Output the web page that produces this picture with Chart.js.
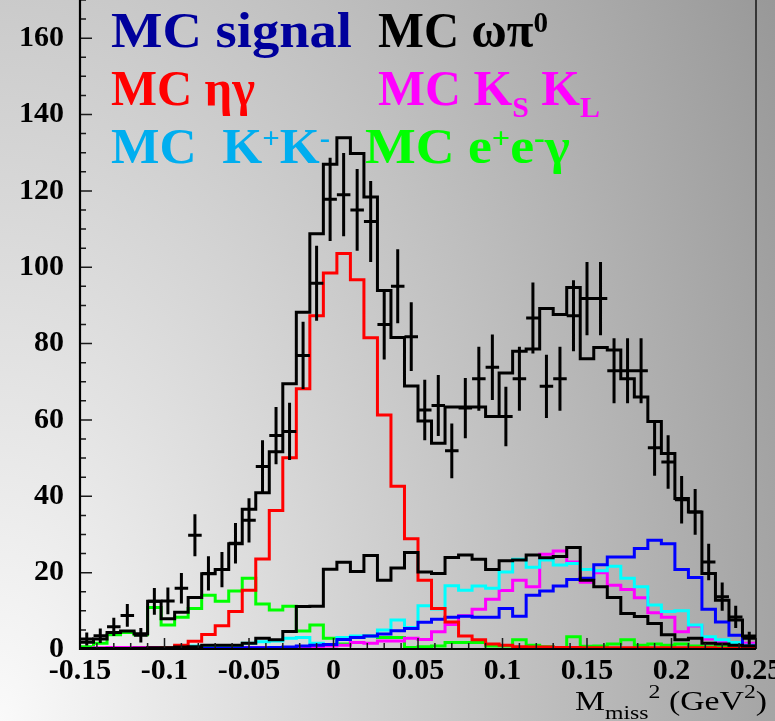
<!DOCTYPE html>
<html>
<head>
<meta charset="utf-8">
<script src="https://cdn.jsdelivr.net/npm/chart.js@4.4.1/dist/chart.umd.min.js"></script>
<style>
  html, body { margin: 0; padding: 0; overflow: hidden; background: #c8c8c8; }
  canvas { display: block; }
</style>
</head>
<body>
<canvas id="c" width="800" height="721"></canvas>
<script>
// 50 bins of 0.008 GeV^2 from -0.15 to 0.25
const binLow = -0.15;
const binWidth = 0.008;

const xTickValues = [-0.15, -0.1, -0.05, 0, 0.05, 0.1, 0.15, 0.2, 0.25];
const yTickValues = [0, 20, 40, 60, 80, 100, 120, 140, 160];

// data: counts per bin and their errors
const dataCounts = [2.6, 3.5, 5.8, 8.8, 3.6, 12.5, 12.6, 15.9, 29.8, 19.8,
  20.8, 27.7, 33.7, 47.8, 55.9, 57.0, 76.9, 95.8, 117.8, 119.0,
  115.0, 112.0, 85.0, 95.0, 81.8, 62.6, 63.8, 51.9, 63.1, 70.8,
  73.8, 60.9, 70.8, 86.7, 68.8, 70.8, 87.3, 91.8, 91.8, 72.9,
  72.9, 72.9, 52.7, 49.0, 39.1, 35.9, 22.8, 13.7, 8.4, 2.8];
const dataErrors = [1.7, 1.9, 2.4, 3.0, 1.9, 3.5, 3.5, 4.0, 5.5, 4.5,
  4.6, 5.3, 5.8, 6.9, 7.5, 7.5, 8.8, 9.8, 10.9, 10.9,
  10.7, 10.6, 9.2, 9.7, 9.0, 7.9, 8.0, 7.2, 7.9, 8.4,
  8.6, 7.8, 8.4, 9.3, 8.3, 8.4, 9.3, 9.6, 9.6, 8.5,
  8.5, 8.5, 7.3, 7.0, 6.2, 6.0, 4.8, 3.7, 2.9, 1.7];

// MC: sum of all samples
const mcTotal = [1.8, 2.6, 4.3, 4.7, 4.0, 12.5, 7.9, 9.6, 13.5, 19.7,
  20.8, 27.6, 36.6, 40.9, 51.7, 69.5, 88.2, 108.8, 127.0, 133.9,
  129.8, 118.4, 93.9, 81.6, 68.9, 59.7, 53.9, 63.4, 63.4, 63.4,
  60.9, 72.3, 78.0, 78.6, 89.2, 87.6, 94.7, 76.0, 79.0, 78.3,
  70.8, 66.0, 59.6, 51.2, 39.4, 35.9, 19.8, 12.8, 7.6, 3.4];

const mcOmegaPi0 = [0.1, 0.1, 0.1, 0.1, 0.2, 0.3, 0.3, 0.5, 0.6, 1.0,
  1.0, 1.0, 1.5, 2.8, 2.4, 4.6, 11.1, 11.2, 20.9, 22.7,
  20.3, 24.5, 18.0, 21.2, 25.3, 20.2, 19.8, 24.0, 24.6, 23.5,
  20.8, 23.1, 23.3, 24.6, 23.9, 24.2, 26.6, 18.0, 16.3, 13.5,
  9.3, 8.5, 6.7, 3.7, 2.4, 2.8, 1.5, 1.3, 1.0, 0.8];

const mcEtaGamma = [0, 0, 0, 0, 0.1, 0.2, 0.3, 1.0, 2.0, 3.8,
  6.1, 9.8, 15.4, 23.6, 36.3, 50.1, 68.2, 87.3, 98.5, 103.6,
  96.7, 81.5, 61.3, 42.6, 28.9, 18.0, 10.6, 7.1, 3.4, 2.4,
  1.3, 1.0, 0.6, 0.5, 0.5, 0.4, 0.4, 0.3, 0.3, 0.3,
  0.3, 0.3, 0.3, 0.3, 0.3, 0.3, 0.3, 0.2, 0.2, 0.2];

const mcSignal = [0, 0, 0, 0, 0, 0, 0, 0, 0.1, 0.1,
  0.2, 0.2, 0.3, 0.3, 0.4, 0.5, 0.8, 1.0, 1.2, 2.5,
  3.0, 3.4, 3.9, 4.8, 5.4, 7.0, 7.8, 8.3, 8.6, 8.3,
  8.3, 10.6, 8.6, 14.1, 15.2, 16.5, 18.2, 18.5, 22.1, 24.1,
  24.1, 26.3, 28.5, 27.6, 20.8, 18.7, 10.4, 7.1, 3.6, 0.8];

const mcKpKm = [0, 0, 0, 0, 0.1, 0.1, 0.3, 0.5, 0.8, 0.8,
  0.9, 0.9, 1.5, 1.9, 2.1, 2.8, 3.0, 1.5, 1.2, 3.0,
  3.4, 3.4, 5.0, 7.6, 5.6, 11.3, 10.5, 16.6, 15.4, 16.5,
  15.9, 20.2, 23.5, 21.4, 23.3, 22.0, 22.4, 20.8, 20.5, 21.7,
  18.5, 16.3, 11.5, 9.8, 10.0, 6.3, 3.2, 2.4, 1.7, 1.0];

const mcKsKl = [0, 0.3, 0.4, 0.4, 0.4, 0.4, 0.4, 0.4, 0.4, 0.4,
  0.4, 0.4, 0.4, 0.4, 0.4, 0.4, 0.5, 0.6, 0.8, 1.0,
  1.7, 1.5, 2.1, 2.1, 2.8, 2.5, 4.5, 6.4, 8.7, 10.4,
  13.0, 15.3, 18.0, 16.3, 24.8, 25.7, 22.8, 17.5, 20.0, 16.7,
  15.6, 13.4, 9.5, 8.3, 4.5, 6.0, 2.6, 1.7, 1.6, 1.5];

const mcEEGamma = [0.6, 1.5, 3.7, 4.3, 3.7, 10.9, 6.3, 8.3, 10.6, 14.1,
  12.5, 15.2, 18.5, 11.8, 10.2, 11.2, 4.7, 6.3, 2.8, 1.3,
  3.0, 3.4, 3.0, 3.0, 0.4, 0.6, 0.8, 1.7, 1.7, 1.7,
  0.8, 0.8, 2.4, 1.0, 0.6, 0.4, 3.2, 0.7, 0.8, 1.3,
  2.4, 1.0, 1.3, 1.0, 1.3, 0.8, 0.6, 0.6, 0.3, 0.3];

const SERIF = "'Liberation Serif', 'Times New Roman', serif";

// bin edges as step points; last edge repeats the last bin content
function histPoints(vals) {
  const pts = vals.map((v, i) => ({x: binLow + i * binWidth, y: v}));
  pts.push({x: binLow + vals.length * binWidth, y: vals[vals.length - 1]});
  return pts;
}

// error crosses: vertical error bar + horizontal bar over the bin width
function crossPoints(vals, errs) {
  const pts = [];
  vals.forEach((v, i) => {
    const xc = binLow + (i + 0.5) * binWidth;
    pts.push({x: xc, y: v - errs[i]}, {x: xc, y: v + errs[i]}, {x: xc, y: null});
    pts.push({x: xc - binWidth / 2, y: v}, {x: xc + binWidth / 2, y: v}, {x: xc, y: null});
  });
  return pts;
}

function hist(vals, color, order) {
  return {
    data: histPoints(vals),
    borderColor: color,
    borderWidth: 3,
    stepped: true,
    pointRadius: 0,
    fill: false,
    borderJoinStyle: 'miter',
    order: order
  };
}

// text with sub/superscripts, squeezed or stretched to a given width
function drawRich(ctx, x, y, parts, opt) {
  const size = opt.size, small = opt.small, weight = opt.weight || 'bold';
  const fontFor = p => `${weight} ${p.sub || p.sup ? small : size}px ${SERIF}`;
  let natural = 0;
  for (const p of parts) {
    ctx.font = fontFor(p);
    natural += ctx.measureText(p.t).width;
  }
  ctx.save();
  ctx.translate(x, y);
  ctx.scale(opt.width ? opt.width / natural : 1, 1);
  ctx.fillStyle = opt.color;
  ctx.textBaseline = 'alphabetic';
  ctx.textAlign = 'left';
  let cx = 0;
  for (const p of parts) {
    ctx.font = fontFor(p);
    const dy = p.sup ? -opt.supShift : p.sub ? opt.subShift : 0;
    ctx.fillText(p.t, cx, dy);
    cx += ctx.measureText(p.t).width;
  }
  ctx.restore();
}

const backdrop = {
  id: 'backdrop',
  beforeDraw(chart) {
    const ctx = chart.ctx;
    const h = chart.height, k = 0.6;
    ctx.save();
    ctx.translate(0, h);
    ctx.scale(1, 1 / k);
    const g = ctx.createRadialGradient(0, 0, 0, 0, 0, 1000);
    g.addColorStop(0, '#fafafa');
    g.addColorStop(1, '#8c8c8c');
    ctx.fillStyle = g;
    ctx.fillRect(0, -h * k, chart.width, h * k);
    ctx.restore();
  }
};

const frame = {
  id: 'frame',
  afterDatasetsDraw(chart) {
    const {ctx, chartArea: a, scales: {x, y}} = chart;
    ctx.save();
    ctx.strokeStyle = '#1a1a1a';
    ctx.lineWidth = 1.5;
    ctx.beginPath();
    for (let i = 0; i <= 34; i++) {
      const py = y.getPixelForValue(i * 5);
      ctx.moveTo(a.left, py);
      ctx.lineTo(a.left + (i % 4 === 0 ? 12 : 6), py);
    }
    for (let i = 0; i <= 40; i++) {
      const px = x.getPixelForValue(binLow + i * 0.01);
      ctx.moveTo(px, a.bottom);
      ctx.lineTo(px, a.bottom - (i % 5 === 0 ? 11 : 6));
    }
    ctx.stroke();

    ctx.strokeStyle = '#000';
    ctx.lineWidth = 2.2;
    ctx.beginPath();
    ctx.moveTo(a.left, a.top);
    ctx.lineTo(a.left, a.bottom);
    ctx.lineTo(a.right, a.bottom);
    ctx.stroke();
    ctx.lineWidth = 1.3;
    ctx.beginPath();
    ctx.moveTo(a.right, a.top);
    ctx.lineTo(a.right, a.bottom);
    ctx.stroke();
    ctx.restore();
  },
  afterDraw(chart) {
    const ctx = chart.ctx;
    const big = {size: 50, small: 30, supShift: 15, subShift: 12};
    drawRich(ctx, 111, 47, [{t: 'MC signal'}], {...big, color: '#00009c', width: 241});
    drawRich(ctx, 378, 47, [{t: 'MC ωπ'}, {t: '0', sup: true}], {...big, color: '#000000', width: 170});
    drawRich(ctx, 111, 105, [{t: 'MC ηγ'}], {...big, color: '#ff0000', width: 144});
    drawRich(ctx, 378, 105, [{t: 'MC K'}, {t: 'S', sub: true}, {t: ' K'}, {t: 'L', sub: true}],
      {...big, color: '#ff00ff', width: 222});
    drawRich(ctx, 111, 163, [{t: 'MC  K'}, {t: '+', sup: true}, {t: 'K'}, {t: '-', sup: true}],
      {...big, color: '#00aeef', width: 219});
    drawRich(ctx, 365, 163, [{t: 'MC e'}, {t: '+', sup: true}, {t: 'e'}, {t: '-', sup: true}, {t: 'γ'}],
      {...big, color: '#00ff00', width: 205});

    // x axis title
    drawRich(ctx, 575, 710, [{t: 'M'}, {t: 'miss', sub: true}, {t: '2', sup: true}, {t: ' (GeV'},
      {t: '2', sup: true}, {t: ')'}],
      {size: 27, small: 19, supShift: 12, subShift: 9, weight: 'normal', color: '#000000', width: 192});
  }
};

new Chart(document.getElementById('c'), {
  type: 'line',
  data: {
    datasets: [
      {
        data: crossPoints(dataCounts, dataErrors),
        borderColor: '#000000',
        borderWidth: 3,
        pointRadius: 0,
        spanGaps: false,
        fill: false,
        borderCapStyle: 'butt',
        order: 0
      },
      hist(mcTotal, '#000000', 1),
      hist(mcOmegaPi0, '#000000', 2),
      hist(mcEtaGamma, '#ff0000', 3),
      hist(mcSignal, '#0000ff', 4),
      hist(mcKpKm, '#00ffff', 5),
      hist(mcKsKl, '#ff00ff', 6),
      hist(mcEEGamma, '#00ff00', 7)
    ]
  },
  options: {
    responsive: false,
    animation: false,
    devicePixelRatio: 1,
    layout: {padding: {left: 0, right: 44, top: 0, bottom: 0}},
    plugins: {legend: {display: false}, tooltip: {enabled: false}},
    scales: {
      x: {
        type: 'linear',
        min: -0.15,
        max: 0.25,
        grid: {display: false, drawTicks: false},
        border: {display: false},
        afterBuildTicks: s => { s.ticks = xTickValues.map(v => ({value: v})); },
        afterFit: s => { s.height = 72; s.paddingLeft = 0; s.paddingRight = 0; s.paddingTop = 0; s.paddingBottom = 0; },
        ticks: {
          autoSkip: false,
          maxRotation: 0,
          padding: 4,
          color: '#000000',
          font: {family: SERIF, weight: 'bold', size: 30},
          callback: v => String(Math.round(v * 100) / 100)
        }
      },
      y: {
        min: 0,
        max: 170,
        grid: {display: false, drawTicks: false},
        border: {display: false},
        afterBuildTicks: s => { s.ticks = yTickValues.map(v => ({value: v})); },
        afterFit: s => { s.width = 80; s.paddingTop = 0; s.paddingBottom = 0; s.paddingLeft = 0; s.paddingRight = 0; },
        ticks: {
          padding: 16,
          color: '#000000',
          font: {family: SERIF, weight: 'bold', size: 30}
        }
      }
    }
  },
  plugins: [backdrop, frame]
});
</script>
</body>
</html>
